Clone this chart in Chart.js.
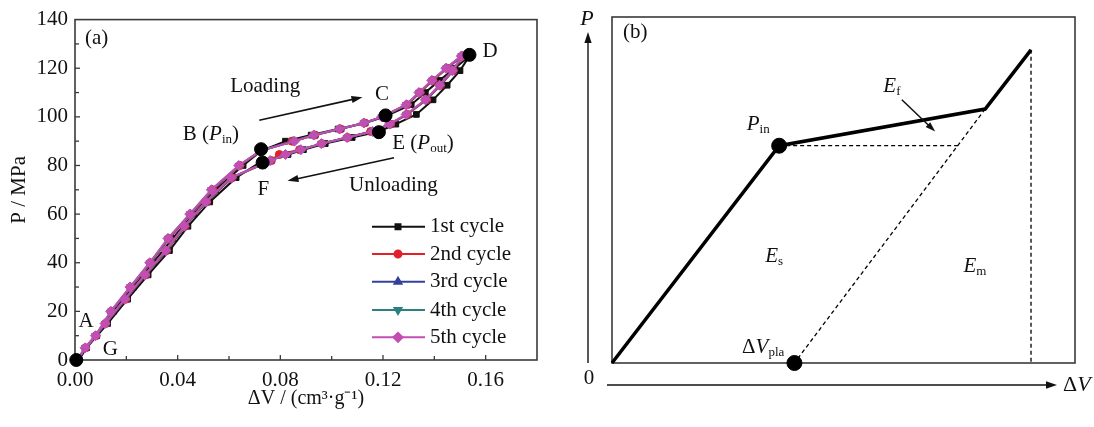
<!DOCTYPE html>
<html><head><meta charset="utf-8">
<script src="https://cdn.jsdelivr.net/npm/chart.js@4.4.0/dist/chart.umd.min.js"></script>
<style>
html,body{margin:0;padding:0;background:#fff;}
#wrap{position:relative;width:1094px;height:427px;overflow:hidden;background:#fff;}
#ca{position:absolute;left:0;top:0;}
#cb{position:absolute;left:556px;top:0;}
</style></head><body>
<div id="wrap"><canvas id="ca" width="550" height="427"></canvas><canvas id="cb" width="538" height="427"></canvas></div>
<script>
// ---------- Panel (a) data ----------
const loadP   = [0, 10, 20, 30, 40, 50, 60, 70, 80, 86, 90, 92.5, 95, 97.5, 100, 105, 110, 115, 120, 125];
const unloadP = [125, 119, 113, 107, 101, 97, 94, 91.5, 89, 86.5, 84.5, 82, 75, 65, 55, 45, 35, 25, 15, 5, 0];

const cycle1LoadV   = [0.0005, 0.0085, 0.0150, 0.0228, 0.0305, 0.0380, 0.0462, 0.0548, 0.0655, 0.0725, 0.0820, 0.0920, 0.1025, 0.1130, 0.1205, 0.1310, 0.1365, 0.1420, 0.1480, 0.1537];
const cycle1UnloadV = [0.1537, 0.1500, 0.1450, 0.1395, 0.1330, 0.1250, 0.1184, 0.1080, 0.0975, 0.0890, 0.0830, 0.0731, 0.0628, 0.0525, 0.0440, 0.0368, 0.0285, 0.0205, 0.0127, 0.0045, 0.0015];
const cycle2LoadV   = [0.0005, 0.0082, 0.0142, 0.0218, 0.0295, 0.0367, 0.0452, 0.0537, 0.0643, 0.0725, 0.0845, 0.0935, 0.1035, 0.1128, 0.1198, 0.1295, 0.1345, 0.1395, 0.1450, 0.1510];
const cycle2UnloadV = [0.1512, 0.1474, 0.1424, 0.1370, 0.1295, 0.1230, 0.1152, 0.1062, 0.0962, 0.0875, 0.0796, 0.0765, 0.0613, 0.0513, 0.0429, 0.0357, 0.0276, 0.0198, 0.0120, 0.0041, 0.0012];
const cycle3LoadV   = [0.0005, 0.0081, 0.0141, 0.0216, 0.0293, 0.0364, 0.0449, 0.0534, 0.0640, 0.0723, 0.0850, 0.0932, 0.1032, 0.1127, 0.1197, 0.1292, 0.1342, 0.1392, 0.1447, 0.1507];
const cycle3UnloadV = [0.1510, 0.1472, 0.1422, 0.1367, 0.1292, 0.1228, 0.1158, 0.1061, 0.0961, 0.0878, 0.0822, 0.0762, 0.0610, 0.0511, 0.0427, 0.0355, 0.0274, 0.0196, 0.0119, 0.0040, 0.0011];
const cycle4LoadV   = [0.0005, 0.0080, 0.0140, 0.0215, 0.0292, 0.0363, 0.0448, 0.0532, 0.0639, 0.0722, 0.0852, 0.0931, 0.1031, 0.1126, 0.1196, 0.1291, 0.1341, 0.1391, 0.1446, 0.1506];
const cycle4UnloadV = [0.1509, 0.1471, 0.1421, 0.1366, 0.1291, 0.1226, 0.1159, 0.1060, 0.0960, 0.0879, 0.0821, 0.0761, 0.0609, 0.0510, 0.0426, 0.0354, 0.0273, 0.0195, 0.0118, 0.0040, 0.0010];
const cycle5LoadV   = [0.0005, 0.0080, 0.0139, 0.0214, 0.0291, 0.0362, 0.0447, 0.0531, 0.0638, 0.0722, 0.0855, 0.0930, 0.1030, 0.1125, 0.1195, 0.1290, 0.1340, 0.1390, 0.1445, 0.1505];
const cycle5UnloadV = [0.1508, 0.1470, 0.1420, 0.1365, 0.1290, 0.1225, 0.1160, 0.1060, 0.0960, 0.0880, 0.0820, 0.0760, 0.0608, 0.0509, 0.0425, 0.0353, 0.0272, 0.0194, 0.0117, 0.0039, 0.0010];

const cycleNames = ['1st cycle', '2nd cycle', '3rd cycle', '4th cycle', '5th cycle'];
const keyPointNames = ['A', 'B', 'C', 'D', 'E', 'F'];
const keyPointV = [0.0005, 0.0725, 0.1210, 0.1537, 0.1184, 0.0731];
const keyPointP = [0, 86.7, 100.6, 125.5, 93.7, 81.2];

const xTickLabels = ['0.00', '0.04', '0.08', '0.12', '0.16'];
const yTickLabels = ['0', '20', '40', '60', '80', '100', '120', '140'];

// ---------- Panel (b) data (schematic, arbitrary units) ----------
const schemeV = [0, 36.1, 80.6, 90.5];
const schemeP = [0, 62.8, 73.4, 90.5];
const pinLineV = [36.1, 75.2];
const pinLineP = [62.8, 62.8];
const unloadLineV = [80.6, 39.4];
const unloadLineP = [73.4, 0];
const maxLineV = [90.5, 90.5];
const maxLineP = [90.5, 0];
const markV = [36.1, 39.4];
const markP = [62.8, 0];

// ---------- helpers ----------
const serif = '"Liberation Serif", "Times New Roman", serif';
function F(size, italic) { return (italic ? 'italic ' : '') + size + 'px ' + serif; }
function pts(vs, ps) { return vs.map((v, i) => ({ x: v, y: ps[i] })); }
function drawRich(ctx, x, y, parts, align) {
  let w = 0;
  parts.forEach(p => { ctx.font = F(p[1], p[2]); w += ctx.measureText(p[0]).width; });
  let cx = align === 'center' ? x - w / 2 : (align === 'right' ? x - w : x);
  ctx.textBaseline = 'middle'; ctx.textAlign = 'left';
  parts.forEach(p => { ctx.font = F(p[1], p[2]); ctx.fillText(p[0], cx, y + (p[3] || 0)); cx += ctx.measureText(p[0]).width; });
}
function arrow(ctx, x1, y1, x2, y2, head, width) {
  const ang = Math.atan2(y2 - y1, x2 - x1);
  const c = Math.cos(ang), s = Math.sin(ang);
  const bx = x2 - head * c, by = y2 - head * s;
  ctx.lineWidth = width; ctx.setLineDash([]);
  ctx.beginPath(); ctx.moveTo(x1, y1); ctx.lineTo(bx + head * 0.3 * c, by + head * 0.3 * s); ctx.stroke();
  const hw = head * 0.33;
  ctx.beginPath(); ctx.moveTo(x2, y2);
  ctx.lineTo(bx + hw * s, by - hw * c);
  ctx.lineTo(bx - hw * s, by + hw * c);
  ctx.closePath(); ctx.fill();
}

// ---------- Panel (a) ----------
const cycleStyles = [
  { color: '#111111', pointStyle: 'rect', radius: 4, rotation: 0 },
  { color: '#e3202a', pointStyle: 'circle', radius: 4, rotation: 0 },
  { color: '#33419c', pointStyle: 'triangle', radius: 4.5, rotation: 0 },
  { color: '#2b8080', pointStyle: 'triangle', radius: 4.5, rotation: 180 },
  { color: '#c24eb2', pointStyle: 'rectRot', radius: 5, rotation: 0 }
];
const cycleLoads = [cycle1LoadV, cycle2LoadV, cycle3LoadV, cycle4LoadV, cycle5LoadV];
const cycleUnloads = [cycle1UnloadV, cycle2UnloadV, cycle3UnloadV, cycle4UnloadV, cycle5UnloadV];

const datasetsA = [{
  label: 'key points',
  data: pts(keyPointV, keyPointP),
  showLine: false, pointRadius: 6.5, pointBackgroundColor: '#000', pointBorderColor: '#000',
  order: 0, clip: false
}];
cycleNames.forEach((name, i) => {
  const st = cycleStyles[i];
  datasetsA.push({
    label: name,
    data: pts(cycleLoads[i], loadP).concat(pts(cycleUnloads[i], unloadP)),
    showLine: true, borderColor: st.color, backgroundColor: st.color, borderWidth: 2,
    pointStyle: st.pointStyle, pointRadius: st.radius, pointRotation: st.rotation,
    pointBackgroundColor: st.color, pointBorderColor: st.color, pointBorderWidth: 1,
    tension: 0, order: 5 - i, clip: false
  });
});

const annotA = [
  { v: 0.0039, p: 132.2, align: 'left', parts: [['(a)', 21]] },
  { v: 0.0741, p: 112.6, align: 'center', parts: [['Loading', 21]] },
  { v: 0.1196, p: 109.4, align: 'center', parts: [['C', 21]] },
  { v: 0.1617, p: 126.9, align: 'center', parts: [['D', 21]] },
  { v: 0.0420, p: 92.8, align: 'left', parts: [['B (', 21], ['P', 21, true], ['in', 13, false, 5], [')', 21]] },
  { v: 0.1236, p: 88.9, align: 'left', parts: [['E (', 21], ['P', 21, true], ['out', 13, false, 5], [')', 21]] },
  { v: 0.0734, p: 70.3, align: 'center', parts: [['F', 21]] },
  { v: 0.1068, p: 71.6, align: 'left', parts: [['Unloading', 21]] },
  { v: 0.0043, p: 15.7, align: 'center', parts: [['A', 21]] },
  { v: 0.0138, p: 4.4, align: 'center', parts: [['G', 21]] }
];
const arrowsA = [
  { from: [0.0718, 98.6], to: [0.1120, 108.1] },
  { from: [0.1243, 83.2], to: [0.0828, 73.7] }
];

function isMultiple(v, step) { const k = v / step; return Math.abs(k - Math.round(k)) < 1e-6; }

const panelAPlugin = {
  id: 'panelA',
  beforeDatasetsDraw(chart) {
    const { ctx, chartArea: a, scales: { x, y } } = chart;
    ctx.save();
    ctx.strokeStyle = '#3a3a3a'; ctx.lineWidth = 1.6;
    ctx.strokeRect(a.left, a.top, a.right - a.left, a.bottom - a.top);
    ctx.lineWidth = 1.3;
    x.ticks.forEach(t => {
      const px = x.getPixelForValue(t.value);
      const len = isMultiple(t.value, 0.04) ? 5 : 4;
      if (px <= a.left + 1 || px >= a.right - 1) return;
      ctx.beginPath(); ctx.moveTo(px, a.bottom); ctx.lineTo(px, a.bottom - len); ctx.stroke();
    });
    y.ticks.forEach(t => {
      const py = y.getPixelForValue(t.value);
      const len = isMultiple(t.value, 20) ? 5 : 4;
      if (py <= a.top + 1 || py >= a.bottom - 1) return;
      ctx.beginPath(); ctx.moveTo(a.left, py); ctx.lineTo(a.left + len, py); ctx.stroke();
    });
    ctx.restore();
  },
  afterDraw(chart) {
    const { ctx, chartArea: a, scales: { x, y } } = chart;
    ctx.save();
    ctx.fillStyle = '#111'; ctx.strokeStyle = '#111';
    annotA.forEach(an => drawRich(ctx, x.getPixelForValue(an.v), y.getPixelForValue(an.p), an.parts, an.align));
    arrowsA.forEach(ar => arrow(ctx, x.getPixelForValue(ar.from[0]), y.getPixelForValue(ar.from[1]),
      x.getPixelForValue(ar.to[0]), y.getPixelForValue(ar.to[1]), 11, 1.6));
    // legend
    const rowOff = [133.3, 106, 78.3, 50, 22.7];
    cycleNames.forEach((name, i) => {
      const st = cycleStyles[i];
      const ry = a.bottom - rowOff[i];
      const x0 = a.right - 165, x1 = a.right - 112, xm = a.right - 139;
      ctx.strokeStyle = st.color; ctx.fillStyle = st.color; ctx.lineWidth = 2;
      ctx.beginPath(); ctx.moveTo(x0, ry); ctx.lineTo(x1, ry); ctx.stroke();
      Chart.helpers.drawPoint(ctx, { pointStyle: st.pointStyle, radius: st.radius - 0.5, rotation: st.rotation, borderWidth: 1 }, xm, ry);
      ctx.fillStyle = '#111';
      drawRich(ctx, a.right - 107, ry, [[name, 21]], 'left');
    });
    ctx.restore();
  }
};

new Chart(document.getElementById('ca'), {
  type: 'line',
  data: { datasets: datasetsA },
  options: {
    responsive: false, animation: false, events: [],
    layout: { padding: { top: 18, right: 13, left: 0, bottom: 0 } },
    plugins: { legend: { display: false }, tooltip: { enabled: false } },
    scales: {
      x: {
        type: 'linear', min: 0, max: 0.18,
        ticks: {
          stepSize: 0.02, autoSkip: false, maxRotation: 0, padding: 8, color: '#111',
          font: { family: serif, size: 21 },
          callback: (v) => isMultiple(v, 0.04) ? (xTickLabels[Math.round(v / 0.04)] ?? '') : ''
        },
        grid: { display: false, drawTicks: false }, border: { display: false },
        title: { display: true, text: 'ΔV / (cm³·g⁻¹)', color: '#111', font: { family: serif, size: 20 }, padding: { top: 0, bottom: 16 } },
        afterFit: (s) => { s.height = 67; }
      },
      y: {
        type: 'linear', min: 0, max: 140,
        ticks: {
          stepSize: 10, autoSkip: false, padding: 7, color: '#111',
          font: { family: serif, size: 21 },
          callback: (v) => isMultiple(v, 20) ? (yTickLabels[Math.round(v / 20)] ?? '') : ''
        },
        grid: { display: false, drawTicks: false }, border: { display: false },
        title: { display: true, text: 'P / MPa', color: '#111', font: { family: serif, size: 21 }, padding: { top: 7, bottom: 0 } },
        afterFit: (s) => { s.width = 75; }
      }
    }
  },
  plugins: [panelAPlugin]
});

// ---------- Panel (b) ----------
const annotB = [
  { v: 2.4, p: 95.4, align: 'left', parts: [['(b)', 21]] },
  { v: 58.6, p: 79.9, align: 'left', parts: [['E', 21, true], ['f', 13, false, 5]] },
  { v: 29.1, p: 68.8, align: 'left', parts: [['P', 21, true], ['in', 13, false, 5]] },
  { v: 33.1, p: 30.7, align: 'left', parts: [['E', 21, true], ['s', 13, false, 5]] },
  { v: 75.9, p: 27.8, align: 'left', parts: [['E', 21, true], ['m', 13, false, 5]] },
  { v: 28.1, p: 4.6, align: 'left', parts: [['Δ', 21], ['V', 21, true], ['pla', 13, false, 5]] }
];
const arrowsB = [{ from: [62.6, 76.1], to: [69.8, 66.9] }];

const panelBPlugin = {
  id: 'panelB',
  beforeDatasetsDraw(chart) {
    const { ctx, chartArea: a } = chart;
    ctx.save();
    ctx.strokeStyle = '#3a3a3a'; ctx.lineWidth = 1.6;
    ctx.strokeRect(a.left, a.top, a.right - a.left, a.bottom - a.top);
    ctx.restore();
  },
  afterDraw(chart) {
    const { ctx, chartArea: a, scales: { x, y } } = chart;
    ctx.save();
    ctx.fillStyle = '#111'; ctx.strokeStyle = '#111';
    arrow(ctx, a.left - 24, a.bottom, a.left - 24, a.top + 15, 11, 1.4);
    arrow(ctx, a.left - 5, a.bottom + 22, a.right - 18, a.bottom + 22, 11, 1.4);
    drawRich(ctx, a.left - 25, a.top + 2, [['P', 22, true]], 'center');
    drawRich(ctx, a.left - 23, a.bottom + 15, [['0', 21]], 'center');
    drawRich(ctx, a.right - 12, a.bottom + 22, [['Δ', 22], ['V', 22, true]], 'left');
    annotB.forEach(an => drawRich(ctx, x.getPixelForValue(an.v), y.getPixelForValue(an.p), an.parts, an.align));
    arrowsB.forEach(ar => arrow(ctx, x.getPixelForValue(ar.from[0]), y.getPixelForValue(ar.from[1]),
      x.getPixelForValue(ar.to[0]), y.getPixelForValue(ar.to[1]), 10, 1.5));
    ctx.restore();
  }
};

new Chart(document.getElementById('cb'), {
  type: 'line',
  data: {
    datasets: [
      { label: 'P_in / ΔV_pla', data: pts(markV, markP), showLine: false, pointRadius: 7.5, pointBackgroundColor: '#000', pointBorderColor: '#000', clip: false, order: 0 },
      { label: 'loading', data: pts(schemeV, schemeP), showLine: true, borderColor: '#000', borderWidth: 3.5, pointRadius: 0, tension: 0, clip: false, order: 1 },
      { label: 'P_in level', data: pts(pinLineV, pinLineP), showLine: true, borderColor: '#000', borderWidth: 1.3, borderDash: [4, 3], pointRadius: 0, clip: false, order: 2 },
      { label: 'unloading', data: pts(unloadLineV, unloadLineP), showLine: true, borderColor: '#000', borderWidth: 1.3, borderDash: [4, 3], pointRadius: 0, clip: false, order: 2 },
      { label: 'max volume', data: pts(maxLineV, maxLineP), showLine: true, borderColor: '#000', borderWidth: 1.3, borderDash: [4, 3], pointRadius: 0, clip: false, order: 2 }
    ]
  },
  options: {
    responsive: false, animation: false, events: [],
    layout: { padding: { left: 56, right: 19, top: 17, bottom: 64 } },
    plugins: { legend: { display: false }, tooltip: { enabled: false } },
    scales: {
      x: { type: 'linear', min: 0, max: 100, display: false },
      y: { type: 'linear', min: 0, max: 100, display: false }
    }
  },
  plugins: [panelBPlugin]
});
</script>
</body></html>
